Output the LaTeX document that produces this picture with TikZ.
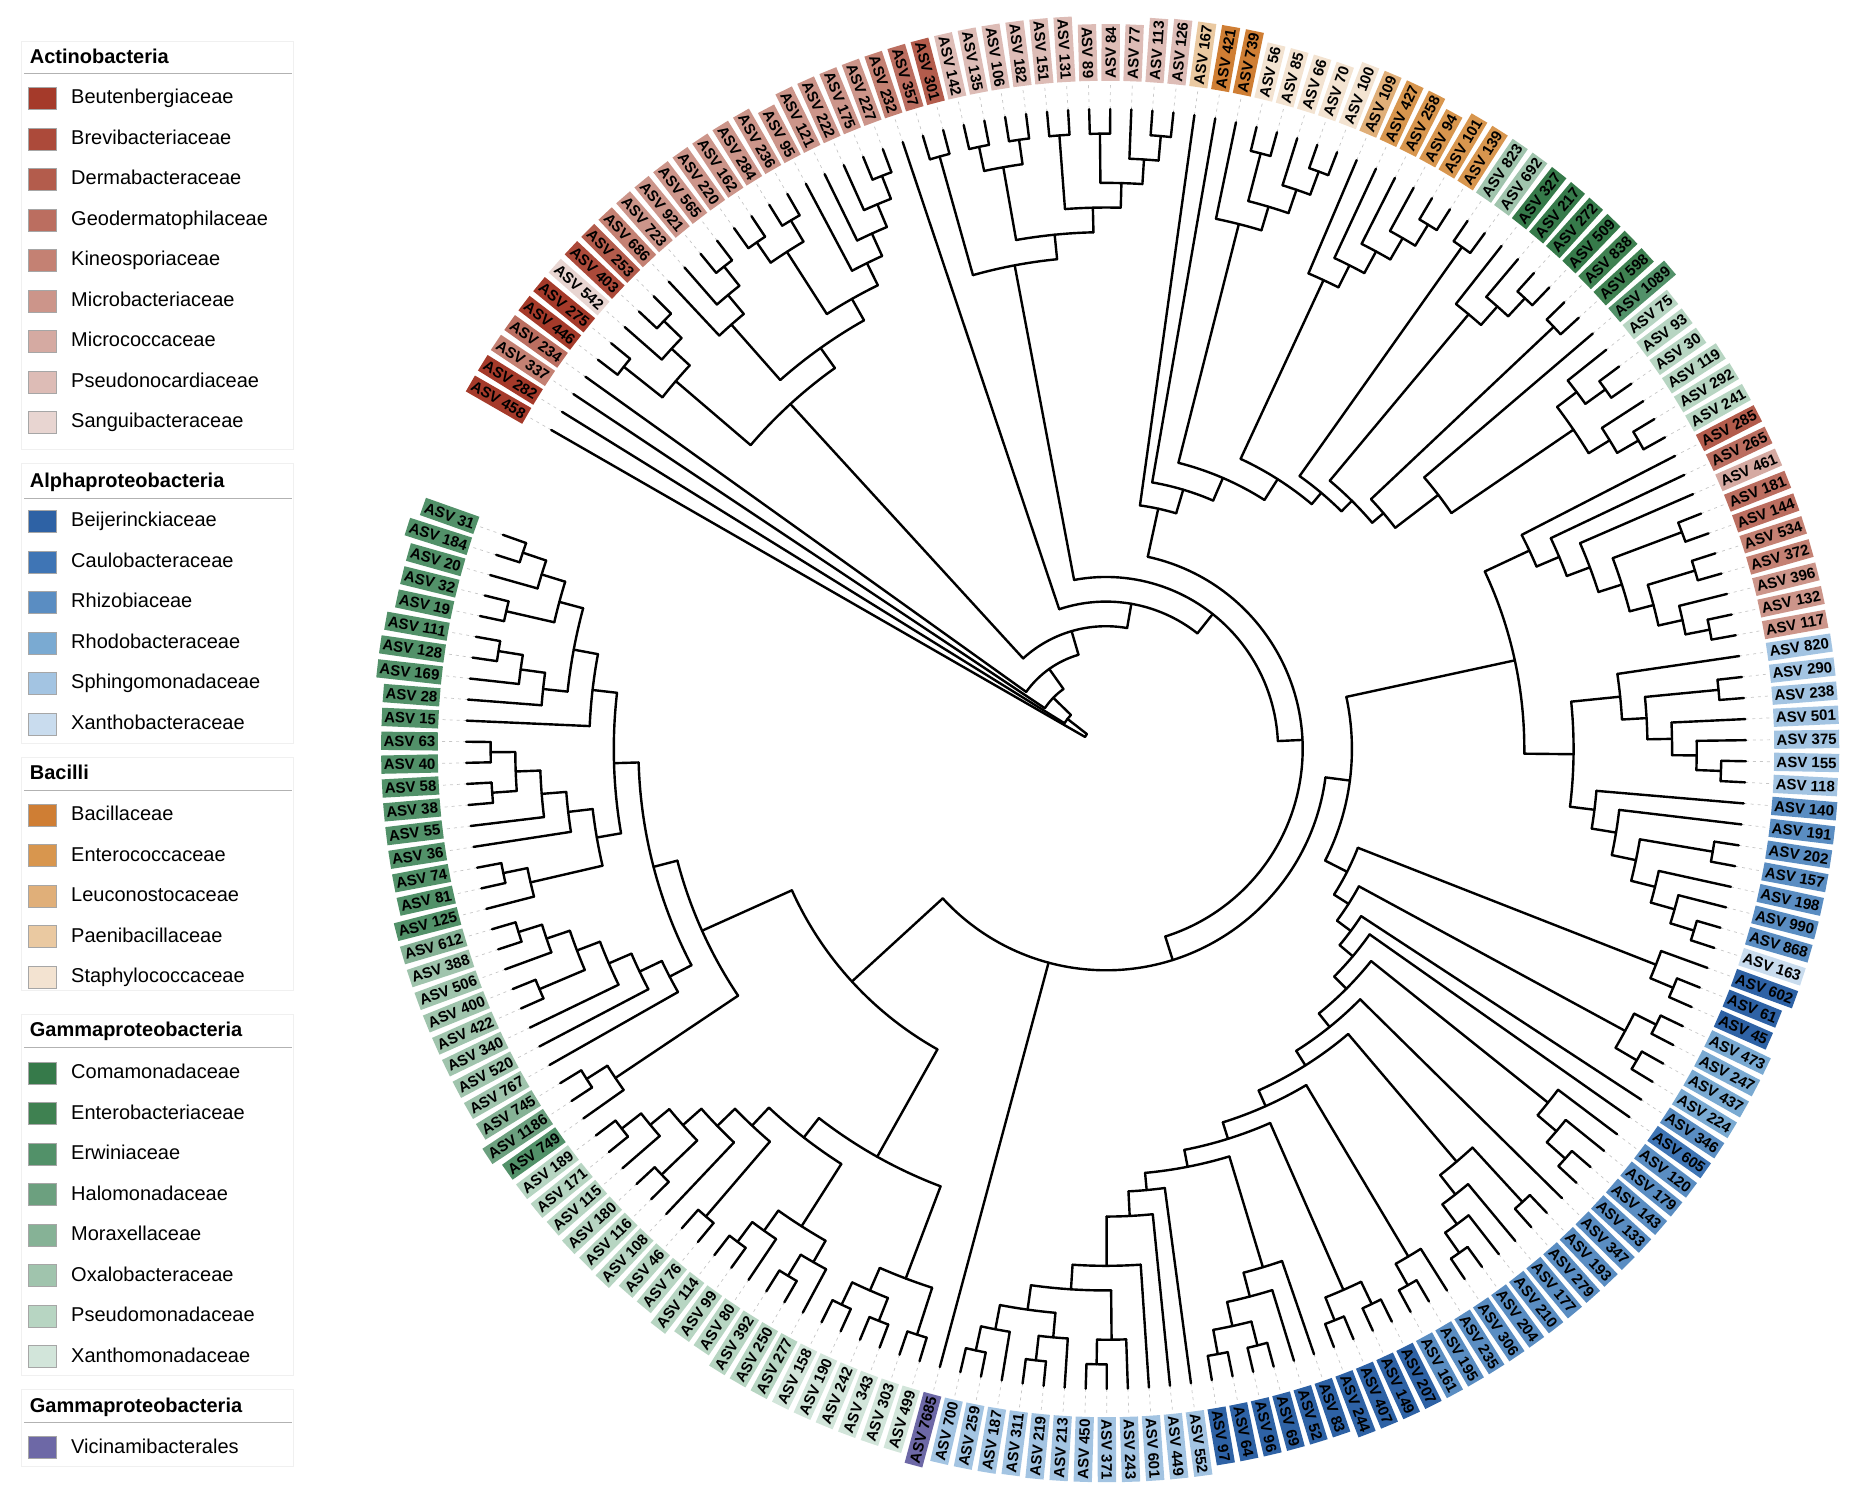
\documentclass[tikz,border=0pt]{standalone}
\usepackage{fontspec}
\setmainfont{Liberation Sans}
\usetikzlibrary{positioning}

% Actinobacteria
\definecolor{beut}{HTML}{A53A2A}
\definecolor{brev}{HTML}{AC4A3A}
\definecolor{derm}{HTML}{B35C4C}
\definecolor{geod}{HTML}{BB6E60}
\definecolor{kine}{HTML}{C48173}
\definecolor{mbac}{HTML}{CC958A}
\definecolor{mcoc}{HTML}{D5AAA2}
\definecolor{psnc}{HTML}{DDBCB6}
\definecolor{sang}{HTML}{E8D5D1}
% Alphaproteobacteria
\definecolor{beij}{HTML}{2E62A5}
\definecolor{caul}{HTML}{3F75B5}
\definecolor{rhiz}{HTML}{5A8DC2}
\definecolor{rhod}{HTML}{7AAAD2}
\definecolor{sphi}{HTML}{A3C4E2}
\definecolor{xnbc}{HTML}{C9DCEE}
% Bacilli
\definecolor{baci}{HTML}{CF7E34}
\definecolor{ente}{HTML}{D8964E}
\definecolor{leuc}{HTML}{E0AF79}
\definecolor{paen}{HTML}{EAC9A1}
\definecolor{stap}{HTML}{F3E3D1}
% Gammaproteobacteria
\definecolor{coma}{HTML}{367A4A}
\definecolor{entb}{HTML}{3F8151}
\definecolor{erwi}{HTML}{529169}
\definecolor{halo}{HTML}{6CA07F}
\definecolor{mora}{HTML}{86B296}
\definecolor{oxal}{HTML}{A0C4AD}
\definecolor{psdm}{HTML}{B7D5C2}
\definecolor{xnmo}{HTML}{D2E5DA}
\definecolor{vici}{HTML}{6D68A6}

% tree bookkeeping: angle and height of every tree node
\def\tA#1{\csname tA@#1\endcsname}
\def\tH#1{\csname tH@#1\endcsname}
\def\treeset#1#2#3{%
  \expandafter\xdef\csname tA@#1\endcsname{#2}%
  \expandafter\xdef\csname tH@#1\endcsname{#3}}
\newcommand\tipR{640}
\newcommand\labR{668}
\newcommand\stepR{24.63}

% inner node: arc over its children and a spoke out to each child
\newcommand\clade[3][]{%
  \gdef\cFirst{}\gdef\cMax{0}%
  \foreach \ch in {#3}{%
    \ifx\cFirst\empty\xdef\cFirst{\ch}\fi
    \xdef\cLast{\ch}%
    \pgfmathparse{max(\cMax,\tH{\ch})}\xdef\cMax{\pgfmathresult}%
  }%
  \def\cOver{#1}%
  \ifx\cOver\empty\pgfmathtruncatemacro\cH{\cMax+1}\else\def\cH{#1}\fi
  \edef\aF{\tA{\cFirst}}\edef\aL{\tA{\cLast}}%
  \pgfmathsetmacro\cA{(\aF+\aL)/2}%
  \pgfmathsetmacro\cR{\tipR-\stepR*\cH}%
  \treeset{#2}{\cA}{\cH}%
  \coordinate (#2) at (\cA:\cR pt);
  \draw[branch] (\aF:\cR pt) arc[start angle=\aF, end angle=\aL, radius=\cR pt];
  \foreach \ch in {#3}{\edef\aC{\tA{\ch}}\draw[branch] (\aC:\cR pt) -- (\ch);}%
}

\begin{document}
\begin{tikzpicture}[x=1pt, y=1pt,
  branch/.style={line width=2.4pt, line cap=round},
  tipline/.style={gray!45, line width=0.7pt, dash pattern=on 3pt off 4pt},
  asv/.style={font=\bfseries\fontsize{15}{15}\selectfont, inner xsep=2.5pt, inner ysep=3.8pt,
              text height=10.7pt, text depth=0pt, text=black},
  swatch/.style={draw=gray!70, line width=0.6pt, minimum width=28pt, minimum height=22pt, inner sep=0pt},
  legtitle/.style={font=\bfseries\fontsize{20}{24}\selectfont, anchor=west, inner sep=0pt,
                   text height=14.5pt, text depth=4pt},
  legitem/.style={font=\fontsize{20}{24}\selectfont, inner sep=0pt, text height=14.5pt, text depth=4pt},
  panel/.style={draw=gray!12, line width=0.8pt}]
\useasboundingbox (0,0) rectangle (1864,1496);

%% legend
\draw[panel] (21.4,1454.4) rectangle (293.6,1046.6);
\draw[panel] (21.4,1032.4) rectangle (293.6,753);
\draw[panel] (21.4,738.7) rectangle (293.6,506);
\draw[panel] (21.4,482) rectangle (293.6,121);
\draw[panel] (21.4,106.3) rectangle (293.6,30);
\foreach \ttl/\ty [count=\p] in {Actinobacteria/1438, Alphaproteobacteria/1013.7, Bacilli/721.3,
    Gammaproteobacteria/464.5, Gammaproteobacteria/89}{
  \node[legtitle] (head\p) at (29.7,\ty) {\ttl};
  \draw[gray!60, line width=0.8pt] (24,\ty-15.7) -- (292,\ty-15.7);
}
\foreach \nm/\col [count=\k] in {Beutenbergiaceae/beut, Brevibacteriaceae/brev, Dermabacteraceae/derm,
    Geodermatophilaceae/geod, Kineosporiaceae/kine, Microbacteriaceae/mbac, Micrococcaceae/mcoc,
    Pseudonocardiaceae/psnc, Sanguibacteraceae/sang}{
  \node[swatch, fill=\col] (swa\k) at (42.7,{1397.5-40.5*(\k-1)}) {};
  \node[legitem, right=14pt of swa\k] (ita\k) {\nm};
}
\foreach \nm/\col [count=\k] in {Beijerinckiaceae/beij, Caulobacteraceae/caul, Rhizobiaceae/rhiz,
    Rhodobacteraceae/rhod, Sphingomonadaceae/sphi, Xanthobacteraceae/xnbc}{
  \node[swatch, fill=\col] (swb\k) at (42.7,{974.3-40.5*(\k-1)}) {};
  \node[legitem, right=14pt of swb\k] (itb\k) {\nm};
}
\foreach \nm/\col [count=\k] in {Bacillaceae/baci, Enterococcaceae/ente, Leuconostocaceae/leuc,
    Paenibacillaceae/paen, Staphylococcaceae/stap}{
  \node[swatch, fill=\col] (swc\k) at (42.7,{680.7-40.5*(\k-1)}) {};
  \node[legitem, right=14pt of swc\k] (itc\k) {\nm};
}
\foreach \nm/\col [count=\k] in {Comamonadaceae/coma, Enterobacteriaceae/entb, Erwiniaceae/erwi,
    Halomonadaceae/halo, Moraxellaceae/mora, Oxalobacteraceae/oxal, Pseudomonadaceae/psdm,
    Xanthomonadaceae/xnmo}{
  \node[swatch, fill=\col] (swd\k) at (42.7,{422.7-40.5*(\k-1)}) {};
  \node[legitem, right=14pt of swd\k] (itd\k) {\nm};
}
\node[swatch, fill=vici] (swe1) at (42.7,48.2) {};
\node[legitem, right=14pt of swe1] (ite1) {Vicinamibacterales};

%% circular tree
\begin{scope}[shift={(1106,747)}]
% tips, dotted leaders and labels
\foreach \n/\col [count=\i] in {458/beut, 282/beut, 337/kine, 234/geod, 446/beut, 275/beut, 542/sang,
    403/brev, 253/derm, 686/kine, 723/mbac, 921/mbac, 565/mbac, 220/mbac, 162/mbac, 284/mbac,
    236/mbac, 95/mbac, 121/mbac, 222/mbac, 175/mbac, 227/mbac, 232/kine, 357/geod, 301/derm,
    142/psnc, 135/psnc, 106/psnc, 182/psnc, 151/psnc, 131/psnc, 89/psnc, 84/psnc, 77/psnc,
    113/psnc, 126/psnc, 167/paen, 421/baci, 739/baci, 56/stap, 85/stap, 66/stap, 70/stap,
    100/stap, 109/leuc, 427/ente, 258/ente, 94/ente, 101/ente, 139/ente, 823/oxal, 692/oxal,
    327/coma, 217/coma, 272/coma, 509/coma, 838/entb, 598/entb, 1089/erwi, 75/psdm, 93/psdm,
    30/psdm, 119/psdm, 292/psdm, 241/psdm, 285/derm, 265/geod, 461/mcoc, 181/geod, 144/geod,
    534/kine, 372/kine, 396/mbac, 132/mbac, 117/mbac, 820/sphi, 290/sphi, 238/sphi, 501/sphi,
    375/sphi, 155/sphi, 118/sphi, 140/rhiz, 191/rhiz, 202/rhiz, 157/rhiz, 198/rhiz, 990/rhiz,
    868/rhiz, 163/xnbc, 602/beij, 61/beij, 45/beij, 473/rhod, 247/rhod, 437/rhod, 224/rhod,
    346/rhiz, 605/caul, 120/rhiz, 179/rhiz, 143/rhiz, 133/rhiz, 347/rhiz, 193/rhiz, 279/rhiz,
    177/rhiz, 210/rhiz, 204/rhiz, 306/rhiz, 235/rhiz, 195/rhiz, 161/rhiz, 207/beij, 149/beij,
    407/beij, 244/beij, 83/beij, 52/beij, 69/beij, 96/beij, 64/beij, 97/beij, 552/sphi,
    449/sphi, 601/sphi, 243/sphi, 371/sphi, 450/sphi, 213/sphi, 219/sphi, 311/sphi, 187/sphi,
    259/sphi, 700/sphi, 7685/vici, 499/xnmo, 303/xnmo, 343/xnmo, 242/xnmo, 190/xnmo, 158/xnmo,
    277/psdm, 250/psdm, 392/psdm, 80/psdm, 99/psdm, 114/psdm, 76/psdm, 46/psdm, 108/psdm,
    116/psdm, 180/psdm, 115/psdm, 171/psdm, 189/psdm, 749/erwi, 1186/halo, 745/mora, 767/oxal,
    520/oxal, 340/oxal, 422/oxal, 400/oxal, 506/oxal, 388/oxal, 612/mora, 125/erwi, 81/erwi,
    74/erwi, 36/erwi, 55/erwi, 38/erwi, 58/erwi, 40/erwi, 63/erwi, 15/erwi, 28/erwi, 169/erwi,
    128/erwi, 111/erwi, 19/erwi, 32/erwi, 20/erwi, 184/erwi, 31/erwi}{
  \pgfmathsetmacro\ang{150.1-(\i-1)*1.89}
  \treeset{L\i}{\ang}{0}
  \coordinate (L\i) at (\ang:\tipR pt);
  \draw[tipline] (L\i) -- (\ang:\labR pt);
  \ifdim\ang pt>90pt \def\side{1}\else\ifdim\ang pt<-90pt \def\side{1}\else\def\side{0}\fi\fi
  \if1\side
    \node[asv, fill=\col, rotate=\ang+180, anchor=east] (T\i) at (\ang:\labR pt) {ASV \n};
  \else
    \node[asv, fill=\col, rotate=\ang, anchor=west] (T\i) at (\ang:\labR pt) {ASV \n};
  \fi
}

% Actinobacteria, upper left
\clade{a5}{L5,L6}
\clade{a8}{L8,L9}
\clade{a7}{L7,a8}
\clade{a57}{a5,a7}
\clade{a12}{L12,L13}
\clade{a11}{L11,a12}
\clade{a10}{L10,a11}
\clade{a14}{L14,L15}
\clade{a16}{L16,L17}
\clade{a1417}{a14,a16}
\clade{a21}{L21,L22}
\clade{a20}{L20,a21}
\clade{a19}{L19,a20}
\clade{a18}{L18,a19}
\clade{a1422}{a1417,a18}
\clade{a1022}{a10,a1422}
\clade{act}{a57,a1022}
% top
\clade{t24}{L24,L25}
\clade{t26}{L26,L27}
\clade{t28}{L28,L29}
\clade{t2629}{t26,t28}
\clade{t30}{L30,L31}
\clade{t32}{L32,L33}
\clade{t35}{L35,L36}
\clade{t34}{L34,t35}
\clade{t3236}{t32,t34}
\clade{t3036}{t30,t3236}
\clade{t2636}{t2629,t3036}
\clade{top}{t24,t2636}
% Bacilli
\clade{b40}{L40,L41}
\clade{b43}{L43,L44}
\clade{b42}{L42,b43}
\clade{b4044}{b40,b42}
\clade{b39}{L39,b4044}
\clade{b49}{L49,L50}
\clade{b48}{L48,b49}
\clade{b47}{L47,b48}
\clade{b46}{L46,b47}
\clade{b45}{L45,b46}
% Gammaproteobacteria, upper right
\clade{g51}{L51,L52}
\clade{g55}{L55,L56}
\clade{g54}{L54,g55}
\clade{g53}{L53,g54}
\clade{g57}{L57,L58}
\clade{g61}{L61,L62}
\clade{g60}{L60,g61}
\clade{g64}{L64,L65}
\clade{g63}{L63,g64}
\clade{g6065}{g60,g63}
% ladder of the upper right
\clade[9]{X8}{L59,g6065}
\clade[11.2]{X7}{g57,X8}
\clade[11.8]{X6}{g53,X7}
\clade[12.4]{X5}{g51,X6}
\clade[13]{X4}{b45,X5}
\clade[14]{X3}{b39,X4}
\clade[15]{X2}{L38,X3}
\clade[16]{X}{L37,X2}
% Actinobacteria, right
\clade{r69}{L69,L70}
\clade{r71}{L71,L72}
\clade{r74}{L74,L75}
\clade{r73}{L73,r74}
\clade{r7175}{r71,r73}
\clade{r6975}{r69,r7175}
\clade{r68}{L68,r6975}
\clade{r67}{L67,r68}
\clade{r66}{L66,r67}
% Alphaproteobacteria
\clade{s77}{L77,L78}
\clade{s81}{L81,L82}
\clade{s80}{L80,s81}
\clade{s79}{L79,s80}
\clade{s7782}{s77,s79}
\clade{s76}{L76,s7782}
\clade{z89}{L89,L90}
\clade{z88}{L88,z89}
\clade{z87}{L87,z88}
\clade{z85}{L85,L86}
\clade{z8590}{z85,z87}
\clade{z84}{L84,z8590}
\clade{z83}{L83,z84}
\clade{Q8}{s76,z83}
\clade[9]{P9}{r66,Q8}
\clade{c92}{L92,L93}
\clade{a91}{L91,c92}
\clade{c94}{L94,L95}
\clade{c96}{L96,L97}
\clade{a94}{c94,c96}
\clade{c102}{L102,L103}
\clade{c101}{L101,c102}
\clade{a100}{L100,c101}
\clade{c105}{L105,L106}
\clade{c109}{L109,L110}
\clade{c108}{L108,c109}
\clade{a107}{L107,c108}
\clade{c105b}{c105,a107}
\clade{c112}{L112,L113}
\clade{a111}{L111,c112}
\clade{c114}{L114,L115}
\clade{c116}{L116,L117}
\clade{c114b}{c114,c116}
\clade{c120}{L120,L121}
\clade{c122}{L122,L123}
\clade{c1203}{c120,c122}
\clade{c119}{L119,c1203}
\clade{e118}{L118,c119}
\clade{c128}{L128,L129}
\clade{c127}{L127,c128}
\clade{c131}{L131,L132}
\clade{c130}{L130,c131}
\clade{c134}{L134,L135}
\clade{c133}{L133,c134}
\clade{c1305}{c130,c133}
\clade{n4a}{c127,c1305}
\clade{n5a}{L126,n4a}
% ladder of the lower right
\clade[7]{Bc}{L125,n5a}
\clade[8]{Bb}{L124,Bc}
\clade[8.7]{B}{e118,Bb}
\clade[9.4]{AR9}{c114b,B}
\clade[10.1]{AR8}{a111,AR9}
\clade[10.8]{AR7}{c105b,AR8}
\clade[11.5]{AR6}{L104,AR7}
\clade[12.2]{AR5}{a100,AR6}
\clade[12.9]{AR4}{L99,AR5}
\clade[13.6]{AR3}{L98,AR4}
\clade[14.3]{AR2}{a94,AR3}
\clade[15]{AR}{a91,AR2}
\clade[16]{A}{P9,AR}
% Gammaproteobacteria, lower left
\clade{c137}{L137,L138}
\clade{c139}{L139,L140}
\clade{c141}{L141,L142}
\clade{c1392}{c139,c141}
\clade{x137}{c137,c1392}
\clade{c144}{L144,L145}
\clade{c143}{L143,c144}
\clade{c147}{L147,L148}
\clade{c146}{L146,c147}
\clade{x143}{c143,c146}
\clade{c149}{L149,L150}
\clade{c152}{L152,L153}
\clade{c155}{L155,L156}
\clade{c154}{L154,c155}
\clade{gxd}{c152,c154}
\clade[4]{gxc}{L151,gxd}
\clade[5]{gxb}{c149,gxc}
\clade[6]{gxa}{x143,gxb}
\clade[7]{gx}{x137,gxa}
\clade{c158}{L158,L159}
\clade{q157}{L157,c158}
\clade{c163}{L163,L164}
\clade{c166}{L166,L167}
\clade{c165}{L165,c166}
\clade{c1637}{c163,c165}
\clade{c162}{L162,c1637}
\clade{c161}{L161,c162}
\clade{q160}{L160,c161}
\clade{c169}{L169,L170}
\clade{c168}{L168,c169}
\clade{c173}{L173,L174}
\clade{c175}{L175,L176}
\clade{c1736}{c173,c175}
\clade{c172}{L172,c1736}
\clade{c171}{L171,c172}
\clade{c1686}{c168,c171}
\clade{c180}{L180,L181}
\clade{c179}{L179,c180}
\clade{c178}{L178,c179}
\clade{c182}{L182,L183}
\clade{c185}{L185,L186}
\clade{c184}{L184,c185}
\clade{c1826}{c182,c184}
\clade{c1781}{c178,c1826}
\clade{c177}{L177,c1781}
\clade{c16886}{c1686,c177}
\clade{gl}{q160,c16886}
\clade{gl2}{q157,gl}
\clade[12]{gamma}{gx,gl2}
% backbone down to the root
\clade[17]{Y}{A,L136,gamma}
\clade[18]{N18}{X,Y}
\clade{N19}{top,N18}
\clade{N20}{L23,N19}
\clade{N21}{act,N20}
\clade{N22}{L4,N21}
\clade{N23}{L3,N22}
\clade{N24}{L2,N23}
\clade{root}{L1,N24}
\end{scope}
\end{tikzpicture}
\end{document}
